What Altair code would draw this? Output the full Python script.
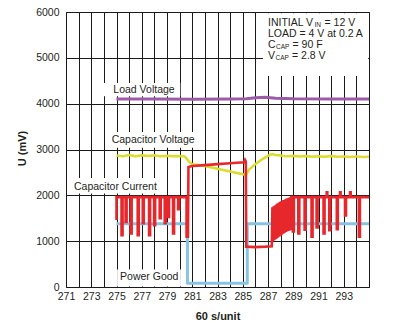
import altair as alt
import pandas as pd

FONT = "Liberation Sans"
INK = "#231f20"

# ---------------- data ----------------
LOAD_X = [275.0, 278.0, 281.0, 284.0, 285.3, 286.0, 286.8, 287.6, 289.0, 292.0, 295.0]
LOAD_Y = [4100, 4100, 4095, 4100, 4105, 4130, 4140, 4120, 4105, 4100, 4100]

CAPV_X = [275.0, 275.5, 276.0, 276.5, 277.0, 277.5, 278.0, 278.5, 279.0, 279.5, 280.0, 280.4,
          280.8, 281.0, 281.5, 282.0, 283.0, 284.0, 285.0, 285.25, 285.5, 286.0, 286.5, 287.0,
          287.3, 287.6, 288.0, 288.5, 289.0, 289.5, 290.0, 290.5, 291.0, 291.5, 292.0, 292.5,
          293.0, 293.5, 294.0, 294.5, 295.0]
CAPV_Y = [2870, 2850, 2880, 2855, 2875, 2860, 2875, 2850, 2865, 2855, 2860, 2850,
          2720, 2680, 2660, 2640, 2580, 2520, 2460, 2440, 2560, 2680, 2780, 2860,
          2900, 2880, 2870, 2850, 2865, 2845, 2860, 2840, 2855, 2840, 2860, 2840,
          2850, 2835, 2850, 2835, 2840]

PGOOD_X = [275.0, 280.62, 280.62, 285.36, 285.36, 295.0]
PGOOD_Y = [1380, 1380, 80, 80, 1380, 1380]

CURR_X = [275.00, 275.00, 275.06,
          275.40, 275.40, 275.48, 275.48,
          275.72, 275.72, 275.80, 275.80,
          276.12, 276.12, 276.20, 276.20,
          276.68, 276.68, 276.76, 276.76,
          277.08, 277.08, 277.16, 277.16,
          277.58, 277.58, 277.66, 277.66,
          277.98, 277.98, 278.06, 278.06,
          278.42, 278.42, 278.50, 278.50,
          278.82, 278.82, 278.90, 278.90,
          279.08, 279.08, 279.16, 279.16,
          279.48, 279.48, 279.56, 279.56,
          279.88, 279.88, 279.96, 279.96,
          280.55, 280.55, 280.66, 280.70, 281.00, 282.00, 283.00, 284.00, 285.10, 285.18, 285.24,
          285.28, 286.00, 286.80, 287.30,
          287.35, 287.40, 287.45, 287.50, 287.55, 287.60, 287.65, 287.70, 287.75, 287.80,
          287.85, 287.90, 287.95, 288.00, 288.05, 288.10, 288.15, 288.20, 288.25, 288.30,
          288.35, 288.40, 288.45, 288.50, 288.55, 288.60, 288.65, 288.70, 288.75, 288.80,
          288.85,
          288.97, 288.97, 289.05, 289.05,
          289.40, 289.40, 289.48, 289.48,
          289.90, 289.90, 289.98, 289.98,
          290.45, 290.45, 290.53, 290.53,
          290.85, 290.85, 290.93, 290.93,
          291.40, 291.40, 291.48, 291.48,
          291.65, 291.65, 291.70, 291.70,
          291.85, 291.85, 291.93, 291.93,
          292.45, 292.45, 292.53, 292.53,
          292.70, 292.70, 292.75, 292.75,
          293.10, 293.10, 293.18, 293.18,
          293.50, 293.50, 293.55, 293.55,
          294.20, 294.20, 294.28, 294.28,
          295.00]
CURR_Y = [1460, 1960, 1960,
          1960, 1130, 1130, 1960,
          1960, 1420, 1420, 1960,
          1960, 1170, 1170, 1960,
          1960, 1130, 1130, 1960,
          1960, 1390, 1390, 1960,
          1960, 1130, 1130, 1960,
          1960, 1350, 1350, 1960,
          1960, 1500, 1500, 1960,
          1960, 1390, 1390, 1960,
          1960, 1530, 1530, 1960,
          1960, 1170, 1170, 1960,
          1960, 1700, 1700, 1960,
          1960, 1100, 1100, 2620, 2640, 2660, 2680, 2700, 2720, 2770, 2740,
          880, 870, 880, 890,
          1740, 1000, 1760, 1020, 1780, 1040, 1800, 1060, 1820, 1080,
          1840, 1100, 1860, 1120, 1870, 1140, 1890, 1160, 1900, 1180,
          1910, 1200, 1925, 1210, 1935, 1220, 1945, 1230, 1955, 1240,
          1960,
          1960, 1210, 1210, 1960,
          1960, 1170, 1170, 1960,
          1960, 1250, 1250, 1960,
          1960, 1100, 1100, 1960,
          1960, 1300, 1300, 1960,
          1960, 1170, 1170, 1960,
          1960, 2066, 2066, 1960,
          1960, 1240, 1240, 1960,
          1960, 1260, 1260, 1960,
          1960, 2066, 2066, 1960,
          1960, 1560, 1560, 1960,
          1960, 2066, 2066, 1960,
          1960, 1100, 1100, 1960,
          1960]

LABEL_TEXT = ["Load Voltage", "Capacitor Voltage", "Capacitor Current", "Power Good"]
LABEL_X = [274.75, 274.62, 271.63, 275.28]
LABEL_Y = [4290, 3210, 2190, 210]

# white backgrounds behind the annotations
BG_X = [273.95, 274.3, 271.4, 275.05, 286.6]
BG_X2 = [280.05, 281.2, 278.5, 280.1, 294.93]
BG_Y = [4160, 3040, 2040, 10, 4604]
BG_Y2 = [4450, 3380, 2380, 380, 5975]

X_TICKS = list(range(271, 296))
Y_TICKS = [0, 1000, 2000, 3000, 4000, 5000, 6000]

# ---------------- encodings ----------------
X_SCALE = alt.Scale(domain=[271, 295], nice=False, zero=False)
Y_SCALE = alt.Scale(domain=[0, 6000], nice=False)

X_AXIS = alt.Axis(values=X_TICKS,
                  labelExpr="(datum.value % 2 == 1 && datum.value < 295) ? datum.label : ''",
                  grid=True, gridColor="#1a1a1a", gridWidth=1, gridOpacity=1,
                  ticks=False, domain=False, labelOverlap=False, labelFlush=False,
                  labelFont=FONT, labelFontSize=10.5, labelColor=INK, labelPadding=4,
                  title="60 s/unit", titleFont=FONT, titleFontSize=11, titleFontWeight="bold",
                  titleColor=INK, titlePadding=9)
Y_AXIS = alt.Axis(values=Y_TICKS, format="d",
                  grid=True, gridColor="#1a1a1a", gridWidth=1, gridOpacity=1,
                  ticks=False, domain=False, labelOverlap=False, labelFlush=False,
                  labelFont=FONT, labelFontSize=10.5, labelColor=INK, labelPadding=7,
                  title="U (mV)", titleFont=FONT, titleFontSize=11, titleFontWeight="bold",
                  titleColor=INK, titleAngle=270, titleX=-44, titleY=136,
                  titleAlign="center", titleBaseline="middle")


def X(field="x"):
    return alt.X(f"{field}:Q", scale=X_SCALE, axis=X_AXIS)


def Y(field="y"):
    return alt.Y(f"{field}:Q", scale=Y_SCALE, axis=Y_AXIS)


def series(xs, ys, color, width, join="round"):
    df = pd.DataFrame({"x": xs, "y": ys, "i": list(range(len(xs)))})
    return alt.Chart(df).mark_line(color=color, strokeWidth=width, strokeJoin=join,
                                   strokeCap="butt").encode(
        x=X(), y=Y(), order=alt.Order("i:Q"))


bg = alt.Chart(pd.DataFrame({"x": BG_X, "x2": BG_X2, "y": BG_Y, "y2": BG_Y2})).mark_rect(
    color="white", opacity=1).encode(x=X(), x2="x2:Q", y=Y(), y2="y2:Q")

pgood = series(PGOOD_X, PGOOD_Y, "#86c4e6", 3)
capv = series(CAPV_X, CAPV_Y, "#dcdc2a", 2.5)
load = series(LOAD_X, LOAD_Y, "#9d5aa8", 3)
curr = series(CURR_X, CURR_Y, "#e6282d", 2.6, join="miter")

labels = alt.Chart(pd.DataFrame({"x": LABEL_X, "y": LABEL_Y, "t": LABEL_TEXT})).mark_text(
    align="left", baseline="middle", font=FONT, fontSize=10.5, color=INK).encode(
    x=X(), y=Y(), text="t:N")

BOX_X = 287.0
BOX_SEGMENTS = [
    # text, y value, dx, size, dy
    ("INITIAL V", 5767, 0, 10.5, 0),
    ("IN", 5767, 46.5, 6.5, 2.5),
    ("= 12 V", 5767, 56.5, 10.5, 0),
    ("LOAD = 4 V at 0.2 A", 5525, 0, 10.5, 0),
    ("C", 5285, 0, 10.5, 0),
    ("CAP", 5285, 8, 6.5, 2.5),
    ("= 90 F", 5285, 24.5, 10.5, 0),
    ("V", 5045, 0, 10.5, 0),
    ("CAP", 5045, 7.5, 6.5, 2.5),
    ("= 2.8 V", 5045, 24, 10.5, 0),
]

box_layers = []
for txt, yv, dx, size, dy in BOX_SEGMENTS:
    box_layers.append(
        alt.Chart(pd.DataFrame({"x": [BOX_X], "y": [yv], "t": [txt]})).mark_text(
            align="left", baseline="middle", font=FONT, fontSize=size, color=INK,
            dx=dx, dy=dy).encode(x=X(), y=Y(), text="t:N"))

chart = alt.layer(bg, pgood, capv, load, curr, labels, *box_layers).properties(
    width=303, height=275,
    autosize=alt.AutoSizeParams(type="none"),
    padding={"left": 66, "top": 12, "right": 36, "bottom": 40},
    background="white",
).configure_view(stroke="#1a1a1a", strokeWidth=1)

chart.save("out.html", embed_options={"renderer": "svg", "actions": False})
